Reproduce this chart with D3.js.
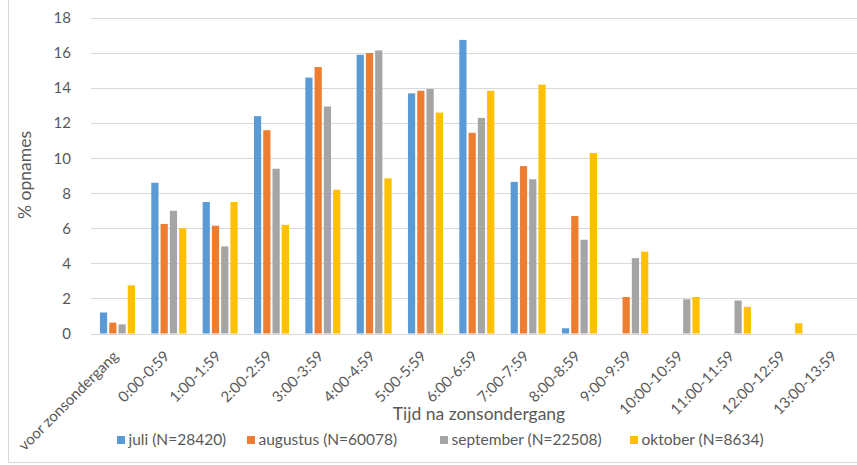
<!DOCTYPE html>
<html>
<head>
<meta charset="utf-8">
<script src="https://cdn.jsdelivr.net/npm/d3@7"></script>
<style>
  html, body { margin: 0; padding: 0; background: #fff; }
  svg { display: block; }
  text { font-family: Lato, "Open Sans", sans-serif; fill: #595959; }
</style>
</head>
<body>
<svg id="chart" width="857" height="465"></svg>
<script>
// Time slots after sunset
const categories = [
  "voor zonsondergang", "0:00-0:59", "1:00-1:59", "2:00-2:59", "3:00-3:59",
  "4:00-4:59", "5:00-5:59", "6:00-6:59", "7:00-7:59", "8:00-8:59",
  "9:00-9:59", "10:00-10:59", "11:00-11:59", "12:00-12:59", "13:00-13:59"
];

// Percentage of recordings per month
const juli      = [1.2, 8.6, 7.5, 12.4, 14.6, 15.9, 13.7, 16.75, 8.65, 0.3, 0, 0, 0, 0, 0];
const augustus  = [0.62, 6.25, 6.15, 11.6, 15.2, 16.0, 13.85, 11.45, 9.55, 6.7, 2.08, 0, 0, 0, 0];
const september = [0.52, 7.0, 4.97, 9.4, 12.95, 16.15, 13.95, 12.3, 8.8, 5.35, 4.3, 1.95, 1.88, 0, 0];
const oktober   = [2.75, 6.0, 7.5, 6.2, 8.2, 8.85, 12.6, 13.85, 14.2, 10.3, 4.67, 2.08, 1.52, 0.58, 0];

const seriesNames = ["juli (N=28420)", "augustus (N=60078)", "september (N=22508)", "oktober (N=8634)"];
const seriesValues = [juli, augustus, september, oktober];
const seriesColors = ["#5B9BD5", "#ED7D31", "#A5A5A5", "#FFC000"];

const yTicks = [0, 2, 4, 6, 8, 10, 12, 14, 16, 18];

const svg = d3.select("#chart");

// Outer chart frame (left and bottom edges visible)
svg.append("line").attr("x1", 8.5).attr("x2", 8.5).attr("y1", 0).attr("y2", 462.5)
  .attr("stroke", "#D9D9D9").attr("stroke-width", 1);
svg.append("line").attr("x1", 8.5).attr("x2", 857).attr("y1", 462.5).attr("y2", 462.5)
  .attr("stroke", "#D9D9D9").attr("stroke-width", 1);

const plotLeft = 91.8, plotRight = 861.8;

const x = d3.scaleBand()
  .domain(categories)
  .range([plotLeft, plotRight])
  .paddingInner(0.318)
  .paddingOuter(0.159);

const x1 = d3.scaleBand()
  .domain(d3.range(seriesNames.length))
  .range([0, x.bandwidth()])
  .paddingInner(0.22);

const y = d3.scaleLinear().domain([0, 18]).range([333.5, 18]);

// Horizontal gridlines
svg.append("g")
  .selectAll("line")
  .data(yTicks.filter(t => t > 0))
  .join("line")
  .attr("x1", 91).attr("x2", 857)
  .attr("y1", d => Math.round(y(d)) + 0.5).attr("y2", d => Math.round(y(d)) + 0.5)
  .attr("stroke", "#D9D9D9").attr("stroke-width", 1);

// Y axis tick labels
const yAxis = d3.axisLeft(y).tickValues(yTicks).tickSize(0).tickPadding(0);
const gy = svg.append("g").attr("transform", "translate(71,0)").call(yAxis);
gy.select(".domain").remove();
gy.selectAll("text")
  .attr("font-size", 15)
  .attr("fill", "#595959")
  .style("font-family", "Lato, sans-serif");

// Bars
const groups = svg.append("g")
  .selectAll("g")
  .data(categories)
  .join("g")
  .attr("transform", d => `translate(${x(d)},0)`);

groups.selectAll("rect")
  .data((c, i) => seriesValues.map((vals, s) => ({ s, v: vals[i] })).filter(d => d.v > 0))
  .join("rect")
  .attr("x", d => x1(d.s))
  .attr("width", x1.bandwidth())
  .attr("y", d => y(d.v))
  .attr("height", d => y(0) - y(d.v))
  .attr("fill", d => seriesColors[d.s]);

// Baseline
svg.append("line")
  .attr("x1", 91).attr("x2", 857)
  .attr("y1", Math.round(y(0)) + 0.5).attr("y2", Math.round(y(0)) + 0.5)
  .attr("stroke", "#D9D9D9").attr("stroke-width", 1);

// X axis category labels, rotated
const xAxis = d3.axisBottom(x).tickSize(0).tickPadding(0);
const gx = svg.append("g").attr("transform", `translate(0,${y(0)})`).call(xAxis);
gx.select(".domain").remove();
gx.selectAll(".tick text")
  .attr("font-size", 15)
  .attr("fill", "#595959")
  .style("font-family", "Lato, sans-serif")
  .attr("text-anchor", "end")
  .attr("dy", "0.35em")
  .attr("transform", "translate(-2,20) rotate(-45)")
  .attr("y", 0);

// Axis titles
svg.append("text")
  .attr("transform", `translate(31,175) rotate(-90)`)
  .attr("text-anchor", "middle")
  .attr("font-size", 17.5)
  .text("% opnames");

svg.append("text")
  .attr("x", 479).attr("y", 420)
  .attr("text-anchor", "middle")
  .attr("font-size", 17.5)
  .text("Tijd na zonsondergang");

// Legend
const legendX = [117, 247, 440, 630];
const legend = svg.append("g")
  .selectAll("g")
  .data(seriesNames)
  .join("g")
  .attr("transform", (d, i) => `translate(${legendX[i]},440)`);

legend.append("rect")
  .attr("x", 0).attr("y", -4)
  .attr("width", 8).attr("height", 8)
  .attr("fill", (d, i) => seriesColors[i]);

legend.append("text")
  .attr("x", 11.5).attr("y", 0)
  .attr("dy", "0.35em")
  .attr("font-size", 15.5)
  .text(d => d);
</script>
</body>
</html>
